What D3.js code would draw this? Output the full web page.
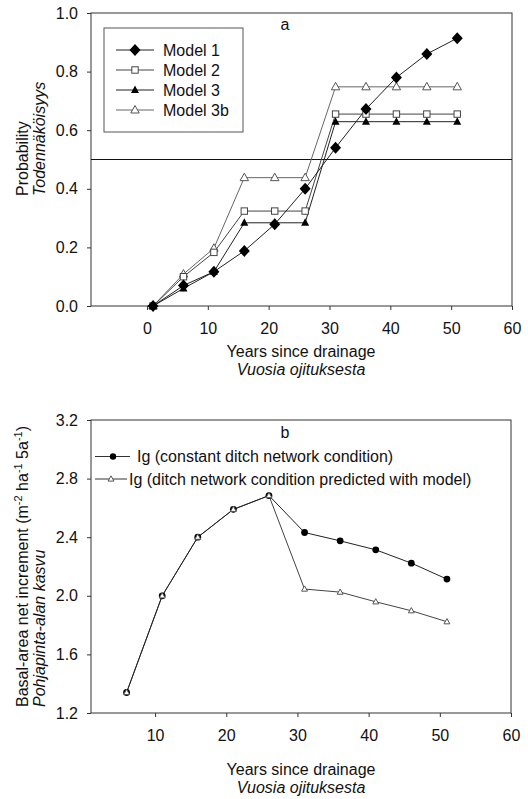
<!DOCTYPE html>
<html>
<head>
<meta charset="utf-8">
<script src="https://cdn.jsdelivr.net/npm/d3@7"></script>
<style>
  body { margin: 0; background: #fff; }
  svg { font-family: "Liberation Sans", Arial, sans-serif; }
</style>
</head>
<body>
<svg id="chart" width="528" height="799"></svg>
<script>
// panel a: probability by model
const yearsA = [1, 6, 11, 16, 21, 26, 31, 36, 41, 46, 51];
const model1 = [0, 0.07, 0.117, 0.188, 0.279, 0.40, 0.54, 0.672, 0.78, 0.86, 0.914];
const model2 = [0, 0.10, 0.183, 0.324, 0.324, 0.324, 0.655, 0.655, 0.655, 0.655, 0.655];
const model3 = [0, 0.06, 0.117, 0.284, 0.284, 0.284, 0.629, 0.629, 0.629, 0.629, 0.629];
const model3b = [0, 0.109, 0.197, 0.438, 0.438, 0.438, 0.748, 0.748, 0.748, 0.748, 0.748];
const modelNames = ['Model 1', 'Model 2', 'Model 3', 'Model 3b'];
const ticksXA = [0, 10, 20, 30, 40, 50, 60];
const ticksYA = [0, 0.2, 0.4, 0.6, 0.8, 1.0];

// panel b: basal-area increment
const yearsB = [6, 11, 16, 21, 26, 31, 36, 41, 46, 51];
const igConstant = [1.34, 2.0, 2.40, 2.59, 2.684, 2.432, 2.375, 2.314, 2.223, 2.114];
const igPredicted = [1.34, 2.0, 2.40, 2.59, 2.684, 2.046, 2.025, 1.959, 1.898, 1.823];
const igNames = ['Ig (constant ditch network condition)', 'Ig (ditch network condition predicted with model)'];
const ticksXB = [10, 20, 30, 40, 50, 60];
const ticksYB = [1.2, 1.6, 2.0, 2.4, 2.8, 3.2];

let svg = d3.select('#chart');
let fmt = d3.format('.1f');

function frame(g, x, y) {
    let [x0, x1] = x.range();
    let [y0, y1] = y.range();
    g.append('rect')
        .attr('x', x0).attr('y', y1)
        .attr('width', x1 - x0).attr('height', y0 - y1)
        .attr('fill', 'none')
        .attr('stroke', '#333')
        .attr('stroke-width', 1);
}

function axes(g, x, y, xt, yt) {
    let gx = g.append('g')
        .attr('transform', `translate(0,${y.range()[0]})`)
        .call(d3.axisBottom(x).tickValues(xt).tickFormat(d3.format('d')).tickSize(4).tickPadding(13));
    let gy = g.append('g')
        .attr('transform', `translate(${x.range()[0]},0)`)
        .call(d3.axisLeft(y).tickValues(yt).tickFormat(fmt).tickSize(4).tickPadding(9));
    [gx, gy].forEach(a => {
        a.select('.domain').remove();
        a.selectAll('line').attr('stroke', '#333');
        a.selectAll('text').attr('font-size', 16).attr('fill', '#111')
            .attr('font-family', '"Liberation Sans", Arial, sans-serif');
    });
}

function marker(g, type, cx, cy, s) {
    if (type == 'diamond') {
        g.append('path')
            .attr('d', `M${cx},${cy - 6}L${cx + 5.5},${cy}L${cx},${cy + 6}L${cx - 5.5},${cy}Z`)
            .attr('fill', '#000');
    } else if (type == 'square') {
        g.append('rect')
            .attr('x', cx - 3.2).attr('y', cy - 3.2)
            .attr('width', 6.4).attr('height', 6.4)
            .attr('fill', '#fff').attr('stroke', '#444').attr('stroke-width', 1);
    } else if (type == 'triFill') {
        g.append('path')
            .attr('d', `M${cx},${cy - 4.5}L${cx + 4},${cy + 3}L${cx - 4},${cy + 3}Z`)
            .attr('fill', '#000');
    } else if (type == 'triOpen') {
        let r = s || 1;
        g.append('path')
            .attr('d', `M${cx},${cy - 4.5 * r}L${cx + 4.2 * r},${cy + 3 * r}L${cx - 4.2 * r},${cy + 3 * r}Z`)
            .attr('fill', '#fff').attr('stroke', '#555').attr('stroke-width', 1);
    } else if (type == 'circle') {
        g.append('circle')
            .attr('cx', cx).attr('cy', cy).attr('r', s || 3.4)
            .attr('fill', '#000');
    }
}

// ---------- panel a ----------
let xA = d3.scaleLinear().domain([-9.2, 60]).range([91, 512]);
let yA = d3.scaleLinear().domain([0, 1]).range([306, 13]);
let ga = svg.append('g');

frame(ga, xA, yA);
axes(ga, xA, yA, ticksXA, ticksYA);

ga.append('line')
    .attr('x1', xA.range()[0]).attr('x2', xA.range()[1])
    .attr('y1', yA(0.5)).attr('y2', yA(0.5))
    .attr('stroke', '#111').attr('stroke-width', 1);

let seriesA = [
    { name: modelNames[0], values: model1, type: 'diamond', color: '#222' },
    { name: modelNames[1], values: model2, type: 'square', color: '#444' },
    { name: modelNames[2], values: model3, type: 'triFill', color: '#222' },
    { name: modelNames[3], values: model3b, type: 'triOpen', color: '#666' }
];

let lineA = d3.line().x((d, i) => xA(yearsA[i])).y(d => yA(d));

// draw lines first, then markers
[3, 1, 2, 0].forEach(k => {
    let s = seriesA[k];
    ga.append('path')
        .attr('d', lineA(s.values))
        .attr('fill', 'none')
        .attr('stroke', s.color)
        .attr('stroke-width', 1);
});
[3, 1, 2, 0].forEach(k => {
    let s = seriesA[k];
    s.values.forEach((v, i) => marker(ga, s.type, xA(yearsA[i]), yA(v)));
});

// legend a
ga.append('rect')
    .attr('x', 104).attr('y', 28).attr('width', 139).attr('height', 104)
    .attr('fill', '#fff').attr('stroke', '#555').attr('stroke-width', 1);
seriesA.forEach((s, i) => {
    let ly = 50 + i * 20;
    ga.append('line')
        .attr('x1', 116).attr('x2', 154).attr('y1', ly).attr('y2', ly)
        .attr('stroke', s.color).attr('stroke-width', 1);
    marker(ga, s.type, 135, ly);
    ga.append('text')
        .attr('x', 163).attr('y', ly + 5.5)
        .attr('font-size', 16).attr('fill', '#111')
        .text(s.name);
});

ga.append('text')
    .attr('x', 285).attr('y', 30)
    .attr('text-anchor', 'middle')
    .attr('font-size', 16).attr('fill', '#111')
    .text('a');

ga.append('text')
    .attr('transform', 'translate(28,196) rotate(-90)')
    .attr('font-size', 16).attr('fill', '#111')
    .text('Probability');
ga.append('text')
    .attr('transform', 'translate(45,196) rotate(-90)')
    .attr('font-size', 16).attr('font-style', 'italic').attr('fill', '#111')
    .text('Todennäköisyys');

ga.append('text')
    .attr('x', 301).attr('y', 357)
    .attr('text-anchor', 'middle')
    .attr('font-size', 16).attr('fill', '#111')
    .text('Years since drainage');
ga.append('text')
    .attr('x', 301).attr('y', 375)
    .attr('text-anchor', 'middle')
    .attr('font-size', 16).attr('font-style', 'italic').attr('fill', '#111')
    .text('Vuosia ojituksesta');

// ---------- panel b ----------
let xB = d3.scaleLinear().domain([1, 60]).range([91, 511]);
let yB = d3.scaleLinear().domain([1.2, 3.2]).range([713, 420]);
let gb = svg.append('g');

frame(gb, xB, yB);
axes(gb, xB, yB, ticksXB, ticksYB);

let lineB = d3.line().x((d, i) => xB(yearsB[i])).y(d => yB(d));

gb.append('path')
    .attr('d', lineB(igPredicted))
    .attr('fill', 'none').attr('stroke', '#444').attr('stroke-width', 1);
gb.append('path')
    .attr('d', lineB(igConstant))
    .attr('fill', 'none').attr('stroke', '#222').attr('stroke-width', 1);

igConstant.forEach((v, i) => marker(gb, 'circle', xB(yearsB[i]), yB(v), 3.4));
igPredicted.forEach((v, i) => marker(gb, 'triOpen', xB(yearsB[i]), yB(v), 0.7));

// legend b
[0, 1].forEach(i => {
    let ly = 456.5 + i * 22.5;
    let x2 = i == 0 ? 130 : 127;
    gb.append('line')
        .attr('x1', 95).attr('x2', x2).attr('y1', ly).attr('y2', ly)
        .attr('stroke', '#333').attr('stroke-width', 1);
    if (i == 0) marker(gb, 'circle', 113, ly, 3.2);
    else marker(gb, 'triOpen', 111, ly, 0.7);
    gb.append('text')
        .attr('x', i == 0 ? 137 : 129).attr('y', ly + 5.5)
        .attr('font-size', 16).attr('fill', '#111')
        .text(igNames[i]);
});

gb.append('text')
    .attr('x', 285).attr('y', 438)
    .attr('text-anchor', 'middle')
    .attr('font-size', 16).attr('fill', '#111')
    .text('b');

let yl = gb.append('text')
    .attr('transform', 'translate(28,707) rotate(-90)')
    .attr('font-size', 16).attr('fill', '#111');
yl.append('tspan').text('Basal-area net increment (m');
yl.append('tspan').attr('dy', -6).attr('font-size', 11).text('-2');
yl.append('tspan').attr('dy', 6).text(' ha');
yl.append('tspan').attr('dy', -6).attr('font-size', 11).text('-1');
yl.append('tspan').attr('dy', 6).text(' 5a');
yl.append('tspan').attr('dy', -6).attr('font-size', 11).text('-1');
yl.append('tspan').attr('dy', 6).text(')');

gb.append('text')
    .attr('transform', 'translate(45,707) rotate(-90)')
    .attr('font-size', 16).attr('font-style', 'italic').attr('fill', '#111')
    .text('Pohjapinta-alan kasvu');

gb.append('text')
    .attr('x', 301).attr('y', 775)
    .attr('text-anchor', 'middle')
    .attr('font-size', 16).attr('fill', '#111')
    .text('Years since drainage');
gb.append('text')
    .attr('x', 301).attr('y', 793)
    .attr('text-anchor', 'middle')
    .attr('font-size', 16).attr('font-style', 'italic').attr('fill', '#111')
    .text('Vuosia ojituksesta');
</script>
</body>
</html>
